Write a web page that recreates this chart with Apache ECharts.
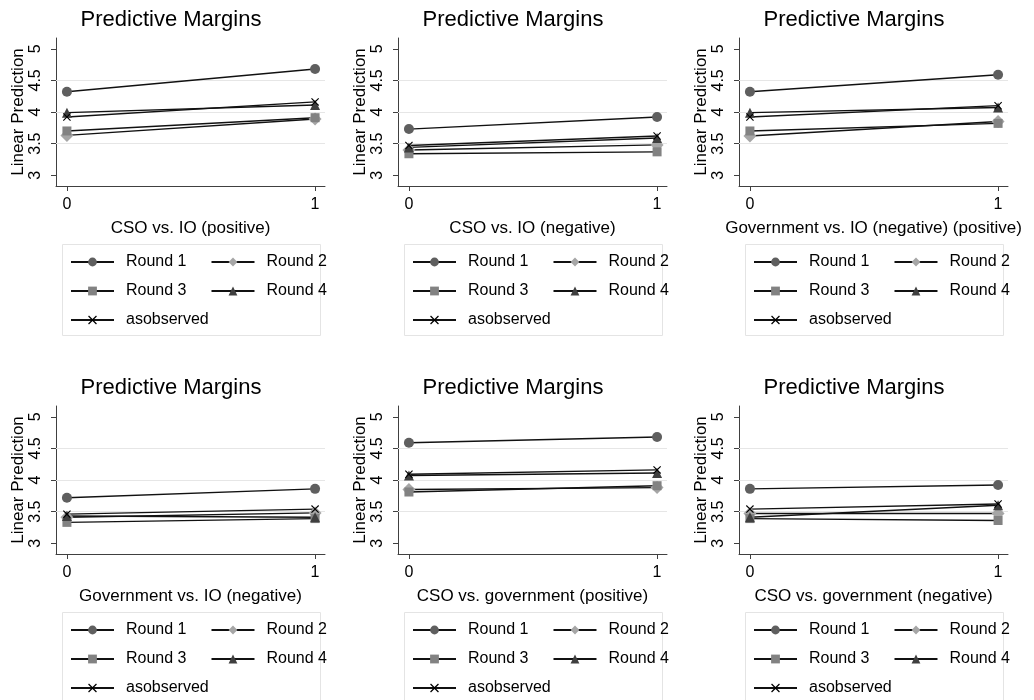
<!DOCTYPE html>
<html><head><meta charset="utf-8">
<script src="https://cdn.jsdelivr.net/npm/echarts@6/dist/echarts.min.js"></script>
<style>html,body{margin:0;padding:0;background:#fff}#c{width:1034px;height:700px}</style>
</head><body><div id="c"></div>
<script>
// ---- data ----
const panelTitle = 'Predictive Margins';
const xAxisNames = ['CSO vs. IO (positive)', 'CSO vs. IO (negative)', 'Government vs. IO (negative) (positive)',
                    'Government vs. IO (negative)', 'CSO vs. government (positive)', 'CSO vs. government (negative)'];
const xValues = [0, 1];
const xTicks = [0, 1];
const yTicks = [3, 3.5, 4, 4.5, 5];
const yGridValues = [3.5, 4, 4.5];
const yAxisName = 'Linear Prediction';
const seriesNames = ['Round 1', 'Round 2', 'Round 3', 'Round 4', 'asobserved'];
const legendRows = [['Round 1', 'Round 2'], ['Round 3', 'Round 4'], ['asobserved']];
// one [value at 0, value at 1] pair per panel
const round1     = [[4.32, 4.68], [3.73, 3.92], [4.32, 4.59], [3.72, 3.86], [4.59, 4.68], [3.86, 3.92]];
const round2     = [[3.63, 3.89], [3.40, 3.48], [3.62, 3.85], [3.41, 3.48], [3.85, 3.88], [3.47, 3.47]];
const round3     = [[3.70, 3.91], [3.34, 3.37], [3.70, 3.82], [3.33, 3.39], [3.81, 3.91], [3.39, 3.36]];
const round4     = [[3.99, 4.11], [3.44, 3.59], [3.99, 4.07], [3.43, 3.41], [4.07, 4.11], [3.41, 3.60]];
const asobserved = [[3.92, 4.16], [3.47, 3.62], [3.92, 4.10], [3.46, 3.54], [4.09, 4.16], [3.54, 3.62]];
const allSeries = [round1, round2, round3, round4, asobserved];

// ---- styles ----
const FONT = "'Liberation Sans', Arial, sans-serif";
const xShape = 'path://M0,1 L1,0 L5,4 L9,0 L10,1 L6,5 L10,9 L9,10 L5,6 L1,10 L0,9 L4,5 Z';
const markerStyles = [
  {symbol: 'circle', size: 10, color: '#5f5f5f'},
  {symbol: 'diamond', size: 13, color: '#a6a6a6'},
  {symbol: 'rect', size: 9, color: '#828282'},
  {symbol: 'triangle', size: 10, color: '#3f3f3f'},
  {symbol: xShape, size: 8, color: '#000000'}
];
const colOff = [0, 342, 683];
const rowOff = [0, 368];
const legendRowTop = [254, 283, 312];

const grids = [], xAxes = [], yAxes = [], titles = [], legends = [], series = [], graphics = [];
for (let p = 0; p < 6; p++) {
  const dx = colOff[p % 3], dy = rowOff[Math.floor(p / 3)];
  grids.push({left: 56 + dx, top: 38 + dy, width: 269, height: 148});
  titles.push({text: panelTitle, left: 171 + dx, top: 9 + dy, textAlign: 'center', padding: 0,
    textStyle: {fontFamily: FONT, fontSize: 22, fontWeight: 'normal', color: '#000'}});
  xAxes.push({type: 'value', gridIndex: p, min: -0.044, max: 1.04,
    name: xAxisNames[p], nameLocation: 'middle', nameGap: 34,
    nameTextStyle: {fontFamily: FONT, fontSize: 17, color: '#000'},
    axisLine: {show: true, onZero: false, lineStyle: {color: '#404040', width: 1}},
    axisTick: {show: true, length: 5, customValues: xTicks, lineStyle: {color: '#404040'}},
    axisLabel: {customValues: xTicks, fontFamily: FONT, fontSize: 16, color: '#000', margin: 11},
    splitLine: {show: false}});
  yAxes.push({type: 'value', gridIndex: p, min: 2.83, max: 5.17,
    name: yAxisName, nameLocation: 'middle', nameGap: 27,
    nameTextStyle: {fontFamily: FONT, fontSize: 17, color: '#000'},
    axisLine: {show: true, onZero: false, lineStyle: {color: '#404040', width: 1}},
    axisTick: {show: true, length: 5, customValues: yTicks, lineStyle: {color: '#404040'}},
    axisLabel: {customValues: yTicks, rotate: 90, fontFamily: FONT, fontSize: 16, color: '#000', margin: 12},
    splitLine: {show: false}});
  graphics.push({type: 'rect', z: -1, shape: {x: 62 + dx + 0.5, y: 244 + dy + 0.5, width: 258, height: 91},
    style: {fill: '#fff', stroke: '#e4e4e4', lineWidth: 1}});
  legendRows.forEach((row, r) => {
    legends.push({data: row, left: 70 + dx, top: legendRowTop[r] + dy, orient: 'horizontal',
      padding: 0, itemGap: 24, itemWidth: 43, itemHeight: 11, selectedMode: false,
      textStyle: {fontFamily: FONT, fontSize: 16, color: '#000', padding: [0, 0, 0, 7]}});
  });
  allSeries.forEach((arr, s) => {
    const ms = markerStyles[s];
    const ser = {type: 'line', name: seriesNames[s], xAxisIndex: p, yAxisIndex: p,
      data: xValues.map((x, i) => [x, arr[p][i]]),
      symbol: ms.symbol, symbolSize: ms.size, showSymbol: true,
      itemStyle: {color: ms.color},
      lineStyle: {color: '#111', width: 1.4},
      emphasis: {disabled: true}, animation: false, z: 3};
    if (s === 0) {
      ser.markLine = {silent: true, symbol: 'none', z: 1, animation: false,
        label: {show: false},
        lineStyle: {color: '#e6e6e6', width: 1, type: 'solid'},
        data: yGridValues.map(v => ({yAxis: v}))};
    }
    series.push(ser);
  });
}

const chart = echarts.init(document.getElementById('c'), null, {renderer: 'canvas'});
chart.setOption({
  backgroundColor: '#fff', animation: false,
  title: titles, grid: grids, xAxis: xAxes, yAxis: yAxes, legend: legends,
  graphic: {elements: graphics}, series: series
});
</script></body></html>
